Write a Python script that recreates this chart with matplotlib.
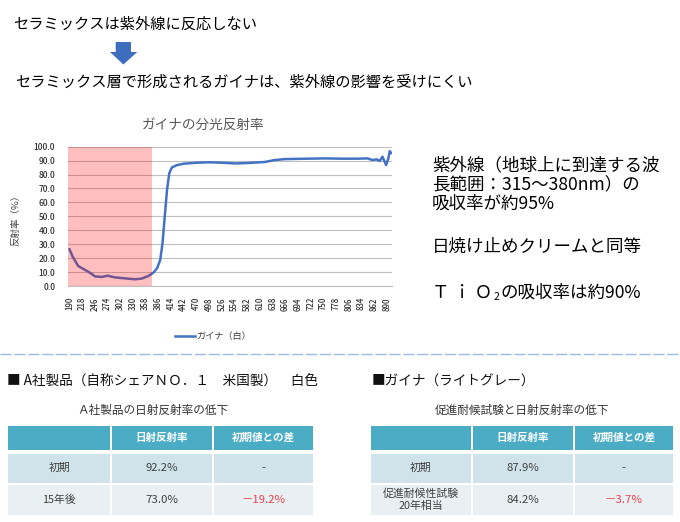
import matplotlib
matplotlib.use("Agg")
import matplotlib.pyplot as plt
from matplotlib.patches import Rectangle, Polygon

plt.rcParams['font.family'] = ['Noto Sans CJK JP', 'DejaVu Sans']

# ---------------- data ----------------
wavelength = [190, 197, 209, 218, 231, 240, 246, 261, 274, 290, 312, 334, 349,
              364, 375, 383, 390, 395, 400, 405, 410, 416, 427, 442, 470, 498,
              526, 556, 577, 620, 642, 665, 715, 752, 790, 825, 847, 858, 867,
              874, 880, 888, 893, 896, 899]
reflectance = [26.3, 21.0, 14.4, 12.7, 10.3, 8.4, 6.9, 6.5, 7.4, 6.2, 5.5, 4.8, 5.3,
               7.2, 9.6, 12.7, 18.7, 30.6, 50.0, 69.0, 81.0, 85.2, 86.8, 87.8, 88.5, 88.8,
               88.5, 88.0, 88.2, 89.0, 90.4, 91.1, 91.4, 91.6, 91.4, 91.4, 91.6, 90.4, 90.9,
               89.7, 92.8, 86.8, 91.6, 96.8, 95.5]
xtick_labels = list(range(190, 891, 28))
uv_band = (186, 372)

chart_title = "ガイナの分光反射率"
ylabel = "反射率（%）"
series_name = "ガイナ（白）"

left_header = ["", "日射反射率", "初期値との差"]
left_rows = ["初期", "15年後"]
left_refl = ["92.2%", "73.0%"]
left_diff = ["-", "－19.2%"]

right_header = ["", "日射反射率", "初期値との差"]
right_rows = ["初期", "促進耐候性試験\n20年相当"]
right_refl = ["87.9%", "84.2%"]
right_diff = ["-", "－3.7%"]

# ---------------- figure ----------------
W, H = 680, 522
fig = plt.figure(figsize=(W / 100, H / 100), dpi=100)
fig.patch.set_facecolor('white')

bg = fig.add_axes([0, 0, 1, 1])
bg.set_xlim(0, W)
bg.set_ylim(H, 0)
bg.axis('off')


def T(x, y, s, size, color='#000000', ha='left', va='center', weight='normal', **kw):
    return bg.text(x, y, s, fontsize=size, color=color, ha=ha, va=va,
                   fontweight=weight, **kw)


# headline texts
T(13, 24, "セラミックスは紫外線に反応しない", 11)
T(15, 82, "セラミックス層で形成されるガイナは、紫外線の影響を受けにくい", 11)

# down arrow
arrow = Polygon([(115.7, 42), (131, 42), (131, 52), (137.3, 52), (123.4, 64.5),
                 (110, 52), (115.7, 52)], closed=True, facecolor='#3D6EBD',
                edgecolor='none')
bg.add_patch(arrow)

# right side explanatory text
T(432, 165, "紫外線（地球上に到達する波", 12.6)
T(432, 185, "長範囲：315～380nm）の", 12.6)
T(432, 204, "吸収率が約95%", 12.6)
T(432, 247, "日焼け止めクリームと同等", 12.6)
t1 = T(432, 293, "Ｔ ｉ Ｏ", 12.6)
fig.canvas.draw()
r = fig.canvas.get_renderer()
bb = t1.get_window_extent(renderer=r)
x_after = bb.x1 + 1
t2 = T(x_after, 297, "2", 7.5)
bb2 = t2.get_window_extent(renderer=r)
T(bb2.x1 + 1, 293, "の吸収率は約90%", 12.6)

# dashed separator
bg.plot([0, W], [354, 354], color='#9DBCE0', lw=1.0, ls=(0, (8, 2)))

# section headings
T(7, 382, "■ A社製品（自称シェアＮＯ．１　米国製）　白色", 9.8, color='#111111')
T(372, 382, "■ガイナ（ライトグレー）", 9.8, color='#111111')
T(153, 410, "Ａ社製品の日射反射率の低下", 8.4, color='#333333', ha='center')
T(522, 410, "促進耐候試験と日射反射率の低下", 8.4, color='#333333', ha='center')

HEAD_C = '#4BACC6'
ROW_C = ['#D0E3EA', '#E9F0F3']
TXT_C = '#404040'
RED_C = '#F0404A'


def draw_table(cols, rows_y, header, labels, refl, diff):
    # header row
    for (x0, x1), h in zip(cols, header):
        y0, y1 = rows_y[0]
        bg.add_patch(Rectangle((x0, y0), x1 - x0, y1 - y0, facecolor=HEAD_C,
                               edgecolor='none'))
        if h:
            T((x0 + x1) / 2, (y0 + y1) / 2, h, 7.6, color='white', ha='center',
              weight='bold')
    for i, (lab, rv, dv) in enumerate(zip(labels, refl, diff)):
        y0, y1 = rows_y[i + 1]
        for j, ((x0, x1), s) in enumerate(zip(cols, [lab, rv, dv])):
            bg.add_patch(Rectangle((x0, y0), x1 - x0, y1 - y0, facecolor=ROW_C[i],
                                   edgecolor='none'))
            col = RED_C if (j == 2 and s != '-') else TXT_C
            size = 7.8 if j == 0 else 8.2
            T((x0 + x1) / 2, (y0 + y1) / 2, s, size, color=col, ha='center',
              linespacing=1.2)


rows_y = [(426, 450), (453.5, 483), (485, 515)]
draw_table([(8.3, 110), (111.7, 212), (213.7, 313)], rows_y,
           left_header, left_rows, left_refl, left_diff)
draw_table([(370.7, 471), (472.7, 573), (574.7, 673)], rows_y,
           right_header, right_rows, right_refl, right_diff)

# ---------------- chart ----------------
px_l, px_r, px_t, px_b = 67.7, 392.0, 146.7, 286.0
ax = fig.add_axes([px_l / W, 1 - px_b / H, (px_r - px_l) / W, (px_b - px_t) / H])
ax.set_facecolor('none')
ax.set_xlim(186, 901)
ax.set_ylim(0, 100)
ax.set_yticks(range(0, 101, 10))
ax.set_yticklabels([f"{v:.1f}" for v in range(0, 101, 10)])
ax.set_xticks(xtick_labels)
ax.set_xticklabels([str(v) for v in xtick_labels], rotation=90)
ax.tick_params(axis='y', length=0, pad=9, labelsize=6.0, labelcolor='#303030')
ax.tick_params(axis='x', length=0, pad=8, labelsize=5.6, labelcolor='#303030')
for lab in ax.get_xticklabels() + ax.get_yticklabels():
    lab.set_fontweight('medium')
ax.grid(axis='y', color='#BFBFBF', lw=0.8, zorder=0)
ax.grid(axis='x', visible=False)
for s in ['left', 'top', 'right']:
    ax.spines[s].set_visible(False)
ax.spines['bottom'].set_color('#BFBFBF')
ax.spines['bottom'].set_linewidth(0.8)

ax.plot(wavelength, reflectance, color='#4472C4', lw=1.8, zorder=2,
        solid_joinstyle='round')
ax.axvspan(uv_band[0], uv_band[1], color='#FF0000', alpha=0.25, lw=0, zorder=3)

T(203, 125, chart_title, 9.8, color='#595959', ha='center')
T(16, 218, ylabel, 6.8, color='#404040', ha='center', rotation=90)

# legend
bg.plot([175, 195], [336, 336], color='#4472C4', lw=1.8)
T(196, 336, series_name, 6.6, color='#404040')

fig.savefig("out.png", dpi=100, facecolor='white')
